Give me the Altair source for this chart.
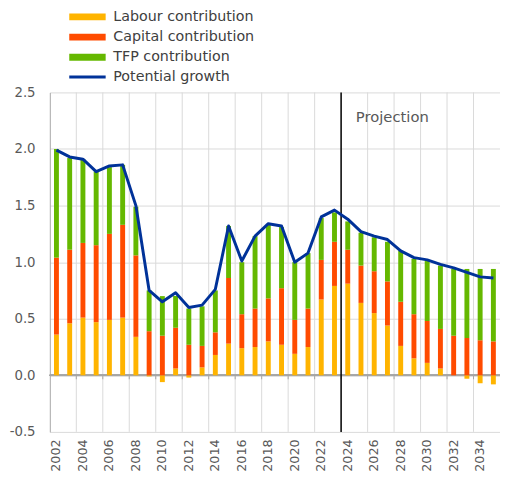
import altair as alt
import pandas as pd

# ---------------- data ----------------
years = list(range(2002, 2036))
labour = [0.36, 0.46, 0.51, 0.47, 0.49, 0.51, 0.34, -0.01, -0.06, 0.06,
          -0.02, 0.07, 0.18, 0.28, 0.24, 0.25, 0.30, 0.27, 0.19, 0.25,
          0.67, 0.79, 0.81, 0.64, 0.55, 0.44, 0.26, 0.15, 0.11, 0.06,
          0.00, -0.03, -0.07, -0.08]
capital = [0.68, 0.65, 0.66, 0.68, 0.76, 0.82, 0.72, 0.39, 0.35, 0.36,
           0.27, 0.19, 0.20, 0.58, 0.30, 0.34, 0.38, 0.50, 0.30, 0.34,
           0.35, 0.39, 0.30, 0.33, 0.37, 0.39, 0.39, 0.39, 0.37, 0.35,
           0.35, 0.33, 0.31, 0.30]
tfp = [0.96, 0.81, 0.74, 0.65, 0.59, 0.53, 0.43, 0.36, 0.35, 0.28,
       0.32, 0.35, 0.37, 0.46, 0.46, 0.64, 0.65, 0.54, 0.51, 0.49,
       0.37, 0.26, 0.25, 0.29, 0.30, 0.35, 0.45, 0.49, 0.53, 0.56,
       0.59, 0.61, 0.63, 0.64]
potential = [1.99, 1.93, 1.91, 1.80, 1.85, 1.86, 1.50, 0.75, 0.65, 0.73,
             0.60, 0.62, 0.76, 1.32, 1.01, 1.23, 1.34, 1.32, 1.00, 1.08,
             1.40, 1.46, 1.38, 1.27, 1.23, 1.20, 1.10, 1.04, 1.02, 0.98,
             0.95, 0.91, 0.87, 0.86]

series_names = ["Labour contribution", "Capital contribution", "TFP contribution"]
line_name = "Potential growth"
bar_colors = ["#FFB400", "#FF4B00", "#65B800"]
line_color = "#003299"

y_ticks = [-0.5, 0.0, 0.5, 1.0, 1.5, 2.0, 2.5]
x_label_years = list(range(2002, 2036, 2))
grid_years = list(range(2004, 2036, 2))
projection_start = [2024]
projection_label = ["Projection"]
projection_label_y = [2.28]

# ---------------- tables ----------------
rows = []
for i, y in enumerate(years):
    for k, (name, vals) in enumerate(zip(series_names, [labour, capital, tfp])):
        rows.append({"year": y, "series": name, "value": vals[i], "order": k})
bars_df = pd.DataFrame(rows)
line_df = pd.DataFrame({"year": years, "potential": potential,
                        "name": [line_name] * len(years)})
grid_df = pd.DataFrame({"year": grid_years})
proj_df = pd.DataFrame({"year": projection_start, "label": projection_label,
                        "y": projection_label_y})

# ---------------- layout ----------------
PLOT_W = 457.5
PLOT_H = 345
FONT = "DejaVu Sans"

x_scale = alt.Scale(type="band", domain=years, paddingInner=0, paddingOuter=0)
x_axis = alt.Axis(values=x_label_years, labelAngle=-90, grid=False, ticks=False,
                  domain=False, labelPadding=7, labelFontSize=13, labelFont=FONT,
                  labelColor="#595959", title=None)
y_scale = alt.Scale(domain=[-0.5, 2.5], nice=False, zero=False)
y_axis = alt.Axis(values=y_ticks, grid=True, gridColor="#d9d9d9", gridWidth=1,
                  domainColor="#a6a6a6", ticks=False, labelPadding=15,
                  labelFontSize=13.5, labelFont=FONT, labelColor="#595959",
                  labelExpr="datum.value < 0 ? '-' + format(-datum.value, '.1f') : format(datum.value, '.1f')",
                  title=None)


def X(**kw):
    return alt.X("year:O", scale=x_scale, axis=x_axis, **kw)


# wide legend swatches: 7px unit box, path stretched to ~37px
rect_path = "M-1,-1L9.57,-1L9.57,1L-1,1Z"
line_path = "M-1,0L9.57,0"

grid_v = alt.Chart(grid_df).mark_rule(color="#d9d9d9", strokeWidth=1).encode(
    x=X(bandPosition=0)
)

zero_line = alt.Chart(grid_df).mark_rule(color="#a6a6a6", strokeWidth=1).encode(
    y=alt.Y(datum=0, scale=y_scale, axis=y_axis)
)

zero_ticks = alt.Chart(grid_df).mark_rule(color="#a6a6a6", strokeWidth=1).encode(
    x=X(bandPosition=0),
    y=alt.Y(datum=0, scale=y_scale, axis=y_axis),
    y2=alt.Y2(datum=-0.035),
)

bars = alt.Chart(bars_df).mark_bar(width=5).encode(
    x=X(),
    y=alt.Y("value:Q", stack="zero", scale=y_scale, axis=y_axis),
    fill=alt.Fill("series:N",
                  scale=alt.Scale(domain=series_names, range=bar_colors),
                  legend=alt.Legend(orient="none", legendX=16, legendY=-84,
                                    title=None, symbolType=rect_path,
                                    symbolSize=49, symbolStrokeWidth=0,
                                    labelFontSize=14.5, labelFont=FONT,
                                    labelColor="#404040", labelOffset=34,
                                    rowPadding=5.5, labelLimit=300, padding=0)),
    order=alt.Order("order:Q", sort="ascending"),
)

proj_rule = alt.Chart(proj_df).mark_rule(color="#000000", strokeWidth=1.5).encode(
    x=X(bandPosition=0)
)

proj_text = alt.Chart(proj_df).mark_text(
    align="left", baseline="middle", dx=15, fontSize=15, font=FONT,
    color="#595959"
).encode(
    x=X(bandPosition=0),
    y=alt.Y("y:Q", scale=y_scale, axis=y_axis),
    text="label:N",
)

line = alt.Chart(line_df).mark_line(strokeWidth=3, strokeJoin="round").encode(
    x=X(),
    y=alt.Y("potential:Q", scale=y_scale, axis=y_axis),
    stroke=alt.Stroke("name:N",
                      scale=alt.Scale(domain=[line_name], range=[line_color]),
                      legend=alt.Legend(orient="none", legendX=16, legendY=-23,
                                        title=None, symbolType=line_path,
                                        symbolSize=49, symbolStrokeWidth=3,
                                        labelFontSize=14.5, labelFont=FONT,
                                        labelColor="#404040", labelOffset=34,
                                        labelLimit=300, padding=0)),
)

chart = alt.layer(grid_v, zero_line, zero_ticks, bars, proj_rule, proj_text, line).properties(
    width=PLOT_W,
    height=PLOT_H,
    autosize=alt.AutoSizeParams(type="none"),
    padding={"left": 42.5, "top": 82, "right": 0, "bottom": 40},
).resolve_scale(fill="independent", stroke="independent").configure_view(
    stroke=None
)

chart.save("out.html", embed_options={"renderer": "svg", "actions": False})
